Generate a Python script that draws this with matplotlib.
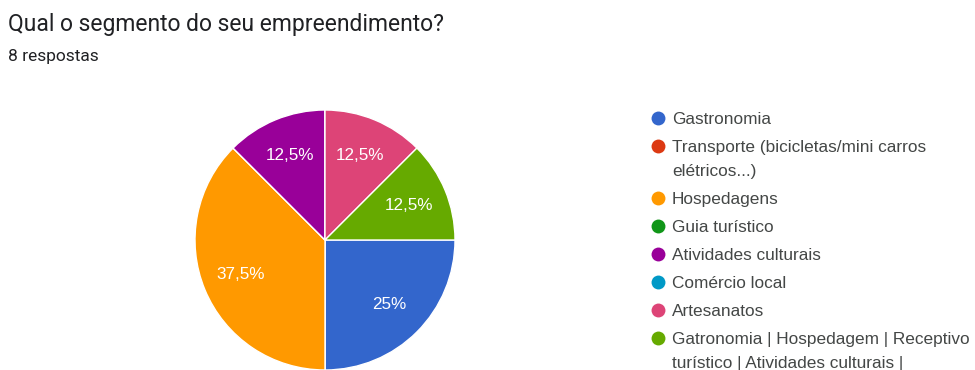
import matplotlib.pyplot as plt

# answers to "Qual o segmento do seu empreendimento?" (8 respostas)
labels = ['Gastronomia',
          'Transporte (bicicletas/mini carros\nelétricos...)',
          'Hospedagens',
          'Guia turístico',
          'Atividades culturais',
          'Comércio local',
          'Artesanatos',
          'Gatronomia | Hospedagem | Receptivo\nturístico | Atividades culturais |']
counts = [2, 0, 3, 0, 1, 0, 1, 1]
colors = ['#3366cc', '#dc3912', '#ff9900', '#109618',
          '#990099', '#0099c6', '#dd4477', '#66aa00']
total = sum(counts)

W, H = 975, 370
fig = plt.figure(figsize=(W / 100, H / 100), dpi=100)

fig.text(8 / W, 1 - 24 / H, 'Qual o segmento do seu empreendimento?',
         fontsize=16.5, family='Roboto', color='#202124', va='center')
fig.text(8 / W, 1 - 57 / H, '%d respostas' % total,
         fontsize=12.5, family='Roboto', color='#202124', va='center')

# pie: centre (325, 240) px, radius 130 px
ax = fig.add_axes([195 / W, 0, 260 / W, 260 / H])


def pct(p):
    if p < 0.01:
        return ''
    return ('%.1f%%' % p).replace('.0%', '%').replace('.', ',')


wedges, _, autotexts = ax.pie(counts, colors=colors, startangle=0,
                              counterclock=False, autopct=pct,
                              pctdistance=0.7,
                              wedgeprops=dict(edgecolor='white', linewidth=1),
                              textprops=dict(color='white', fontsize=12.3,
                                             family='Liberation Sans'))
ax.set_xlim(-1, 1)
ax.set_ylim(-1, 1)

# legend drawn by hand, Google Forms style
lax = fig.add_axes([0, 0, 1, 1])
lax.set_xlim(0, W)
lax.set_ylim(H, 0)
lax.axis('off')
y = 118
for lab, col in zip(labels, colors):
    lax.plot(658, y, 'o', ms=10, color=col, mec='none')
    lines = lab.split('\n')
    for i, line in enumerate(lines):
        lax.text(672, y + 6 + 24 * i, line, fontsize=12.4,
                 family='Liberation Sans', color='#444746', va='baseline')
    y += 28 + 24 * (len(lines) - 1)

fig.savefig('out.png', dpi=100)
